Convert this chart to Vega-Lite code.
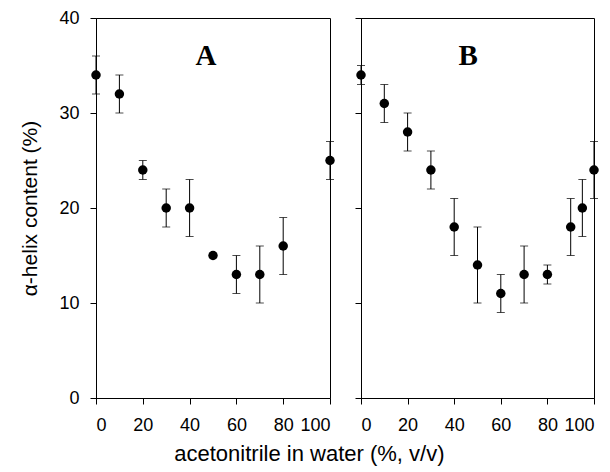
{
  "$schema": "https://vega.github.io/schema/vega-lite/v6.json",
  "padding": {"left": 19, "top": 8, "right": 5, "bottom": 5},
  "background": "white",
  "bounds": "flush",
  "spacing": 31,
  "title": {"text": "acetonitrile in water (%, v/v)", "orient": "bottom", "anchor": "middle", "font": "Liberation Sans", "fontSize": 22, "fontWeight": "normal", "color": "black", "offset": 9},
  "datasets": {
    "pts": [
      {"panel": "A", "conc": 0, "helix": 34, "lo": 32, "hi": 36},
      {"panel": "A", "conc": 10, "helix": 32, "lo": 30, "hi": 34},
      {"panel": "A", "conc": 20, "helix": 24, "lo": 23, "hi": 25},
      {"panel": "A", "conc": 30, "helix": 20, "lo": 18, "hi": 22},
      {"panel": "A", "conc": 40, "helix": 20, "lo": 17, "hi": 23},
      {"panel": "A", "conc": 50, "helix": 15, "lo": null, "hi": null},
      {"panel": "A", "conc": 60, "helix": 13, "lo": 11, "hi": 15},
      {"panel": "A", "conc": 70, "helix": 13, "lo": 10, "hi": 16},
      {"panel": "A", "conc": 80, "helix": 16, "lo": 13, "hi": 19},
      {"panel": "A", "conc": 100, "helix": 25, "lo": 23, "hi": 27},
      {"panel": "B", "conc": 0, "helix": 34, "lo": 33, "hi": 35},
      {"panel": "B", "conc": 10, "helix": 31, "lo": 29, "hi": 33},
      {"panel": "B", "conc": 20, "helix": 28, "lo": 26, "hi": 30},
      {"panel": "B", "conc": 30, "helix": 24, "lo": 22, "hi": 26},
      {"panel": "B", "conc": 40, "helix": 18, "lo": 15, "hi": 21},
      {"panel": "B", "conc": 50, "helix": 14, "lo": 10, "hi": 18},
      {"panel": "B", "conc": 60, "helix": 11, "lo": 9, "hi": 13},
      {"panel": "B", "conc": 70, "helix": 13, "lo": 10, "hi": 16},
      {"panel": "B", "conc": 80, "helix": 13, "lo": 12, "hi": 14},
      {"panel": "B", "conc": 90, "helix": 18, "lo": 15, "hi": 21},
      {"panel": "B", "conc": 95, "helix": 20, "lo": 17, "hi": 23},
      {"panel": "B", "conc": 100, "helix": 24, "lo": 21, "hi": 27}
    ],
    "labels": [
      {"panel": "A", "conc": 47, "helix": 36, "text": "A"},
      {"panel": "B", "conc": 46, "helix": 36, "text": "B"}
    ]
  },
  "config": {
    "view": {"stroke": "black", "strokeWidth": 1},
    "axis": {"grid": false, "domainColor": "black", "tickColor": "black", "labelColor": "black", "titleColor": "black", "labelFont": "Liberation Sans", "titleFont": "Liberation Sans", "labelFontSize": 18, "titleFontSize": 21, "titleFontWeight": "normal", "tickSize": 6}
  },
  "hconcat": [
    {
      "width": 234,
      "height": 380,
      "layer": [
        {
          "data": {"name": "pts"},
          "transform": [{"filter": "datum.panel == 'A'"}],
          "mark": {"type": "rule", "color": "black", "strokeWidth": 1},
          "encoding": {
            "x": {"field": "conc", "type": "quantitative", "scale": {"domain": [0, 100], "nice": false}, "axis": {"values": [0, 20, 40, 60, 80, 100], "title": null, "labelPadding": 12}},
            "y": {"field": "lo", "type": "quantitative", "scale": {"domain": [0, 40], "nice": false}, "axis": {"values": [0, 10, 20, 30, 40], "title": "α-helix content (%)", "labelPadding": 11, "titlePadding": 18}},
            "y2": {"field": "hi"}
          }
        },
        {
          "data": {"name": "pts"},
          "transform": [{"filter": "datum.panel == 'A'"}],
          "mark": {"type": "tick", "orient": "horizontal", "size": 8, "thickness": 1, "color": "black"},
          "encoding": {
            "x": {"field": "conc", "type": "quantitative"},
            "y": {"field": "lo", "type": "quantitative"}
          }
        },
        {
          "data": {"name": "pts"},
          "transform": [{"filter": "datum.panel == 'A'"}],
          "mark": {"type": "tick", "orient": "horizontal", "size": 8, "thickness": 1, "color": "black"},
          "encoding": {
            "x": {"field": "conc", "type": "quantitative"},
            "y": {"field": "hi", "type": "quantitative"}
          }
        },
        {
          "data": {"name": "pts"},
          "transform": [{"filter": "datum.panel == 'A'"}],
          "mark": {"type": "point", "filled": true, "color": "black", "opacity": 1, "size": 90},
          "encoding": {
            "x": {"field": "conc", "type": "quantitative"},
            "y": {"field": "helix", "type": "quantitative"}
          }
        },
        {
          "data": {"name": "labels"},
          "transform": [{"filter": "datum.panel == 'A'"}],
          "mark": {"type": "text", "font": "Liberation Serif", "fontWeight": "bold", "fontSize": 29, "color": "black", "baseline": "middle", "align": "center"},
          "encoding": {
            "x": {"field": "conc", "type": "quantitative"},
            "y": {"field": "helix", "type": "quantitative"},
            "text": {"field": "text"}
          }
        }
      ]
    },
    {
      "width": 233,
      "height": 380,
      "layer": [
        {
          "data": {"name": "pts"},
          "transform": [{"filter": "datum.panel == 'B'"}],
          "mark": {"type": "rule", "color": "black", "strokeWidth": 1},
          "encoding": {
            "x": {"field": "conc", "type": "quantitative", "scale": {"domain": [0, 100], "nice": false}, "axis": {"values": [0, 20, 40, 60, 80, 100], "title": null, "labelPadding": 12}},
            "y": {"field": "lo", "type": "quantitative", "scale": {"domain": [0, 40], "nice": false}, "axis": {"values": [0, 10, 20, 30, 40], "title": null, "labels": false}},
            "y2": {"field": "hi"}
          }
        },
        {
          "data": {"name": "pts"},
          "transform": [{"filter": "datum.panel == 'B'"}],
          "mark": {"type": "tick", "orient": "horizontal", "size": 8, "thickness": 1, "color": "black"},
          "encoding": {
            "x": {"field": "conc", "type": "quantitative"},
            "y": {"field": "lo", "type": "quantitative"}
          }
        },
        {
          "data": {"name": "pts"},
          "transform": [{"filter": "datum.panel == 'B'"}],
          "mark": {"type": "tick", "orient": "horizontal", "size": 8, "thickness": 1, "color": "black"},
          "encoding": {
            "x": {"field": "conc", "type": "quantitative"},
            "y": {"field": "hi", "type": "quantitative"}
          }
        },
        {
          "data": {"name": "pts"},
          "transform": [{"filter": "datum.panel == 'B'"}],
          "mark": {"type": "point", "filled": true, "color": "black", "opacity": 1, "size": 90},
          "encoding": {
            "x": {"field": "conc", "type": "quantitative"},
            "y": {"field": "helix", "type": "quantitative"}
          }
        },
        {
          "data": {"name": "labels"},
          "transform": [{"filter": "datum.panel == 'B'"}],
          "mark": {"type": "text", "font": "Liberation Serif", "fontWeight": "bold", "fontSize": 29, "color": "black", "baseline": "middle", "align": "center"},
          "encoding": {
            "x": {"field": "conc", "type": "quantitative"},
            "y": {"field": "helix", "type": "quantitative"},
            "text": {"field": "text"}
          }
        }
      ]
    }
  ]
}
